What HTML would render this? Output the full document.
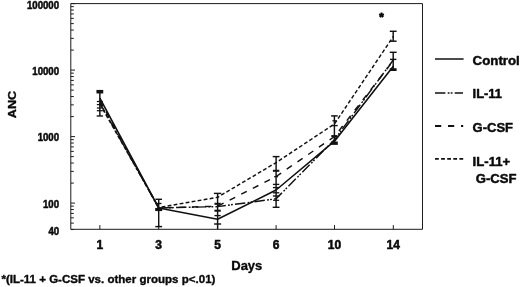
<!DOCTYPE html><html><head><meta charset="utf-8"><title>ANC chart</title><style>html,body{margin:0;padding:0;background:#fff}svg{display:block;filter:blur(0.3px)}</style></head><body><svg width="520" height="287" viewBox="0 0 520 287" font-family="'Liberation Sans', Arial, sans-serif" font-weight="bold" fill="#0a0a0a" stroke="#0a0a0a" stroke-width="0.35" stroke-linejoin="round">
<rect width="520" height="287" fill="#fff" stroke="none"/>
<g stroke="#1c1c1c" stroke-width="1" fill="none">
<rect x="70.8" y="3.6" width="351.7" height="225.70000000000002"/>
<line x1="70.8" y1="229.56" x2="73.8" y2="229.56"/>
<line x1="70.8" y1="223.12" x2="73.8" y2="223.12"/>
<line x1="70.8" y1="217.85" x2="73.8" y2="217.85"/>
<line x1="70.8" y1="213.40" x2="73.8" y2="213.40"/>
<line x1="70.8" y1="209.54" x2="73.8" y2="209.54"/>
<line x1="70.8" y1="206.14" x2="73.8" y2="206.14"/>
<line x1="70.8" y1="203.10" x2="75.0" y2="203.10"/>
<line x1="70.8" y1="183.08" x2="73.8" y2="183.08"/>
<line x1="70.8" y1="171.37" x2="73.8" y2="171.37"/>
<line x1="70.8" y1="163.06" x2="73.8" y2="163.06"/>
<line x1="70.8" y1="156.62" x2="73.8" y2="156.62"/>
<line x1="70.8" y1="151.35" x2="73.8" y2="151.35"/>
<line x1="70.8" y1="146.90" x2="73.8" y2="146.90"/>
<line x1="70.8" y1="143.04" x2="73.8" y2="143.04"/>
<line x1="70.8" y1="139.64" x2="73.8" y2="139.64"/>
<line x1="70.8" y1="136.60" x2="75.0" y2="136.60"/>
<line x1="70.8" y1="116.58" x2="73.8" y2="116.58"/>
<line x1="70.8" y1="104.87" x2="73.8" y2="104.87"/>
<line x1="70.8" y1="96.56" x2="73.8" y2="96.56"/>
<line x1="70.8" y1="90.12" x2="73.8" y2="90.12"/>
<line x1="70.8" y1="84.85" x2="73.8" y2="84.85"/>
<line x1="70.8" y1="80.40" x2="73.8" y2="80.40"/>
<line x1="70.8" y1="76.54" x2="73.8" y2="76.54"/>
<line x1="70.8" y1="73.14" x2="73.8" y2="73.14"/>
<line x1="70.8" y1="70.10" x2="75.0" y2="70.10"/>
<line x1="70.8" y1="50.08" x2="73.8" y2="50.08"/>
<line x1="70.8" y1="38.37" x2="73.8" y2="38.37"/>
<line x1="70.8" y1="30.06" x2="73.8" y2="30.06"/>
<line x1="70.8" y1="23.62" x2="73.8" y2="23.62"/>
<line x1="70.8" y1="18.35" x2="73.8" y2="18.35"/>
<line x1="70.8" y1="13.90" x2="73.8" y2="13.90"/>
<line x1="70.8" y1="10.04" x2="73.8" y2="10.04"/>
<line x1="70.8" y1="6.64" x2="73.8" y2="6.64"/>
<line x1="70.8" y1="3.6" x2="75.39999999999999" y2="3.6"/>
<line x1="99.85" y1="229.3" x2="99.85" y2="225.10000000000002"/>
<line x1="158.7" y1="229.3" x2="158.7" y2="225.10000000000002"/>
<line x1="217.6" y1="229.3" x2="217.6" y2="225.10000000000002"/>
<line x1="276.1" y1="229.3" x2="276.1" y2="225.10000000000002"/>
<line x1="334.5" y1="229.3" x2="334.5" y2="225.10000000000002"/>
<line x1="393.3" y1="229.3" x2="393.3" y2="225.10000000000002"/>
</g>
<text x="26.94" y="8.50" font-size="10.4" textLength="32.16" lengthAdjust="spacingAndGlyphs" stroke-width="0.5">100000</text>
<text x="32.30" y="74.70" font-size="10.4" textLength="26.80" lengthAdjust="spacingAndGlyphs" stroke-width="0.5">10000</text>
<text x="37.66" y="141.20" font-size="10.4" textLength="21.44" lengthAdjust="spacingAndGlyphs" stroke-width="0.5">1000</text>
<text x="43.02" y="207.70" font-size="10.4" textLength="16.08" lengthAdjust="spacingAndGlyphs" stroke-width="0.5">100</text>
<text x="48.38" y="234.56" font-size="10.4" textLength="10.72" lengthAdjust="spacingAndGlyphs" stroke-width="0.5">40</text>
<text x="99.85" y="248.9" font-size="12" text-anchor="middle" stroke-width="0.55">1</text>
<text x="158.7" y="248.9" font-size="12" text-anchor="middle" stroke-width="0.55">3</text>
<text x="217.6" y="248.9" font-size="12" text-anchor="middle" stroke-width="0.55">5</text>
<text x="276.1" y="248.9" font-size="12" text-anchor="middle" stroke-width="0.55">6</text>
<text x="334.5" y="248.9" font-size="12" text-anchor="middle" stroke-width="0.55">10</text>
<text x="393.3" y="248.9" font-size="12" text-anchor="middle" stroke-width="0.55">14</text>
<text x="246.8" y="270.4" font-size="13" text-anchor="middle">Days</text>
<text transform="translate(15.8,118.2) rotate(-90)" font-size="11.2" textLength="27.3" lengthAdjust="spacingAndGlyphs">ANC</text>
<text x="1.4" y="283" font-size="10.8" textLength="214" lengthAdjust="spacingAndGlyphs">*(IL-11 + G-CSF vs. other groups p&lt;.01)</text>
<text x="381.5" y="20.6" font-size="11.5" text-anchor="middle" stroke-width="0.9">*</text>
<g font-size="12.6" stroke-width="0.45" lengthAdjust="spacingAndGlyphs">
<text x="472.6" y="65" textLength="47.2" lengthAdjust="spacingAndGlyphs">Control</text>
<text x="472.6" y="98.4" textLength="29.4" lengthAdjust="spacingAndGlyphs">IL-11</text>
<text x="472.6" y="131.8" textLength="40.4" lengthAdjust="spacingAndGlyphs">G-CSF</text>
<text x="472.6" y="165.6" textLength="37.6" lengthAdjust="spacingAndGlyphs">IL-11+</text>
<text x="475.8" y="183.3" textLength="40.8" lengthAdjust="spacingAndGlyphs">G-CSF</text>
</g>
<g stroke="#111" stroke-width="1.5" fill="none">
<line x1="435" y1="59" x2="463.6" y2="59"/>
<line x1="435" y1="92.9" x2="463" y2="92.9" stroke-dasharray="10.4 2.3 1.8 1.2 1.8 2.2" stroke-width="1.55"/>
<line x1="435" y1="126" x2="463.2" y2="126" stroke-dasharray="6.2 6.8" stroke-width="1.8"/>
<line x1="435" y1="158.9" x2="463.2" y2="158.9" stroke-dasharray="3.8 2.3" stroke-width="1.6"/>
</g>
<polyline points="99.85,98.2 158.7,208 217.6,219.3 276.1,190 334.5,141.2 393.3,66.3" fill="none" stroke="#111" stroke-width="1.6" stroke-linejoin="round"/>
<polyline points="99.85,102.8 158.7,208 217.6,206.6 276.1,198.8 334.5,139.6 393.3,60" fill="none" stroke="#111" stroke-width="1.45" stroke-linejoin="round" stroke-dasharray="10.4 2.3 1.8 1.2 1.8 2.2"/>
<polyline points="99.85,100.5 158.7,208 217.6,206.2 276.1,176.5 334.5,136.5 393.3,60.6" fill="none" stroke="#111" stroke-width="1.45" stroke-linejoin="round" stroke-dasharray="6.2 6.8"/>
<polyline points="99.85,104 158.7,207.5 217.6,197.3 276.1,162.6 334.5,123.9 393.3,36.5" fill="none" stroke="#111" stroke-width="1.45" stroke-linejoin="round" stroke-dasharray="3.8 2.3"/>
<line x1="99.85" y1="91.5" x2="99.85" y2="116" stroke="#111" stroke-width="1.45"/>
<line x1="96.44999999999999" y1="91.7" x2="103.25" y2="91.7" stroke="#111" stroke-width="3.55"/>
<line x1="96.85" y1="101.5" x2="102.85" y2="101.5" stroke="#111" stroke-width="1.25"/>
<line x1="96.85" y1="104.6" x2="102.85" y2="104.6" stroke="#111" stroke-width="1.25"/>
<line x1="96.85" y1="108" x2="102.85" y2="108" stroke="#111" stroke-width="1.25"/>
<line x1="96.85" y1="110.7" x2="102.85" y2="110.7" stroke="#111" stroke-width="1.25"/>
<line x1="96.64999999999999" y1="116" x2="103.05" y2="116" stroke="#111" stroke-width="1.35"/>
<line x1="158.7" y1="199.3" x2="158.7" y2="226.6" stroke="#111" stroke-width="1.45"/>
<line x1="155.39999999999998" y1="199.3" x2="162.0" y2="199.3" stroke="#111" stroke-width="1.45"/>
<line x1="155.89999999999998" y1="203.5" x2="161.5" y2="203.5" stroke="#111" stroke-width="1.35"/>
<line x1="155.2" y1="209.5" x2="162.2" y2="209.5" stroke="#111" stroke-width="3.15"/>
<line x1="155.29999999999998" y1="226.6" x2="162.1" y2="226.6" stroke="#111" stroke-width="1.45"/>
<line x1="217.6" y1="193.4" x2="217.6" y2="229" stroke="#111" stroke-width="1.45"/>
<line x1="213.9" y1="193.4" x2="221.29999999999998" y2="193.4" stroke="#111" stroke-width="1.45"/>
<line x1="214.5" y1="203.8" x2="220.7" y2="203.8" stroke="#111" stroke-width="2.05"/>
<line x1="214.4" y1="210.7" x2="220.79999999999998" y2="210.7" stroke="#111" stroke-width="2.05"/>
<line x1="214.5" y1="215.6" x2="220.7" y2="215.6" stroke="#111" stroke-width="1.35"/>
<line x1="214.1" y1="224" x2="221.1" y2="224" stroke="#111" stroke-width="1.45"/>
<line x1="276.1" y1="156.6" x2="276.1" y2="207.3" stroke="#111" stroke-width="1.45"/>
<line x1="272.70000000000005" y1="156.6" x2="279.5" y2="156.6" stroke="#111" stroke-width="1.45"/>
<line x1="272.90000000000003" y1="170.8" x2="279.3" y2="170.8" stroke="#111" stroke-width="2.05"/>
<line x1="274.1" y1="176.7" x2="278.1" y2="176.7" stroke="#111" stroke-width="1.25"/>
<line x1="272.90000000000003" y1="184.4" x2="279.3" y2="184.4" stroke="#111" stroke-width="1.35"/>
<line x1="272.90000000000003" y1="187.6" x2="279.3" y2="187.6" stroke="#111" stroke-width="1.35"/>
<line x1="272.90000000000003" y1="192.8" x2="279.3" y2="192.8" stroke="#111" stroke-width="1.35"/>
<line x1="272.90000000000003" y1="196" x2="279.3" y2="196" stroke="#111" stroke-width="1.35"/>
<line x1="273.1" y1="200.3" x2="279.1" y2="200.3" stroke="#111" stroke-width="1.25"/>
<line x1="272.70000000000005" y1="207.3" x2="279.5" y2="207.3" stroke="#111" stroke-width="1.45"/>
<line x1="334.4" y1="115.9" x2="334.4" y2="143" stroke="#111" stroke-width="1.45"/>
<line x1="331.09999999999997" y1="115.9" x2="337.7" y2="115.9" stroke="#111" stroke-width="1.45"/>
<line x1="332.4" y1="120.8" x2="336.4" y2="120.8" stroke="#111" stroke-width="1.25"/>
<line x1="331.09999999999997" y1="125.6" x2="337.7" y2="125.6" stroke="#111" stroke-width="1.35"/>
<line x1="331.29999999999995" y1="136.1" x2="337.5" y2="136.1" stroke="#111" stroke-width="2.05"/>
<line x1="331.0" y1="143.2" x2="337.79999999999995" y2="143.2" stroke="#111" stroke-width="3.35"/>
<line x1="393.2" y1="31.3" x2="393.2" y2="41.2" stroke="#111" stroke-width="1.45"/>
<line x1="389.8" y1="31.3" x2="396.59999999999997" y2="31.3" stroke="#111" stroke-width="1.45"/>
<line x1="389.8" y1="41.2" x2="396.59999999999997" y2="41.2" stroke="#111" stroke-width="1.45"/>
<line x1="393.2" y1="52.3" x2="393.2" y2="69.6" stroke="#111" stroke-width="1.45"/>
<line x1="389.8" y1="52.3" x2="396.59999999999997" y2="52.3" stroke="#111" stroke-width="1.45"/>
<line x1="390.0" y1="59.4" x2="396.4" y2="59.4" stroke="#111" stroke-width="1.45"/>
<line x1="389.8" y1="69.6" x2="396.59999999999997" y2="69.6" stroke="#111" stroke-width="2.75"/>
</svg></body></html>
